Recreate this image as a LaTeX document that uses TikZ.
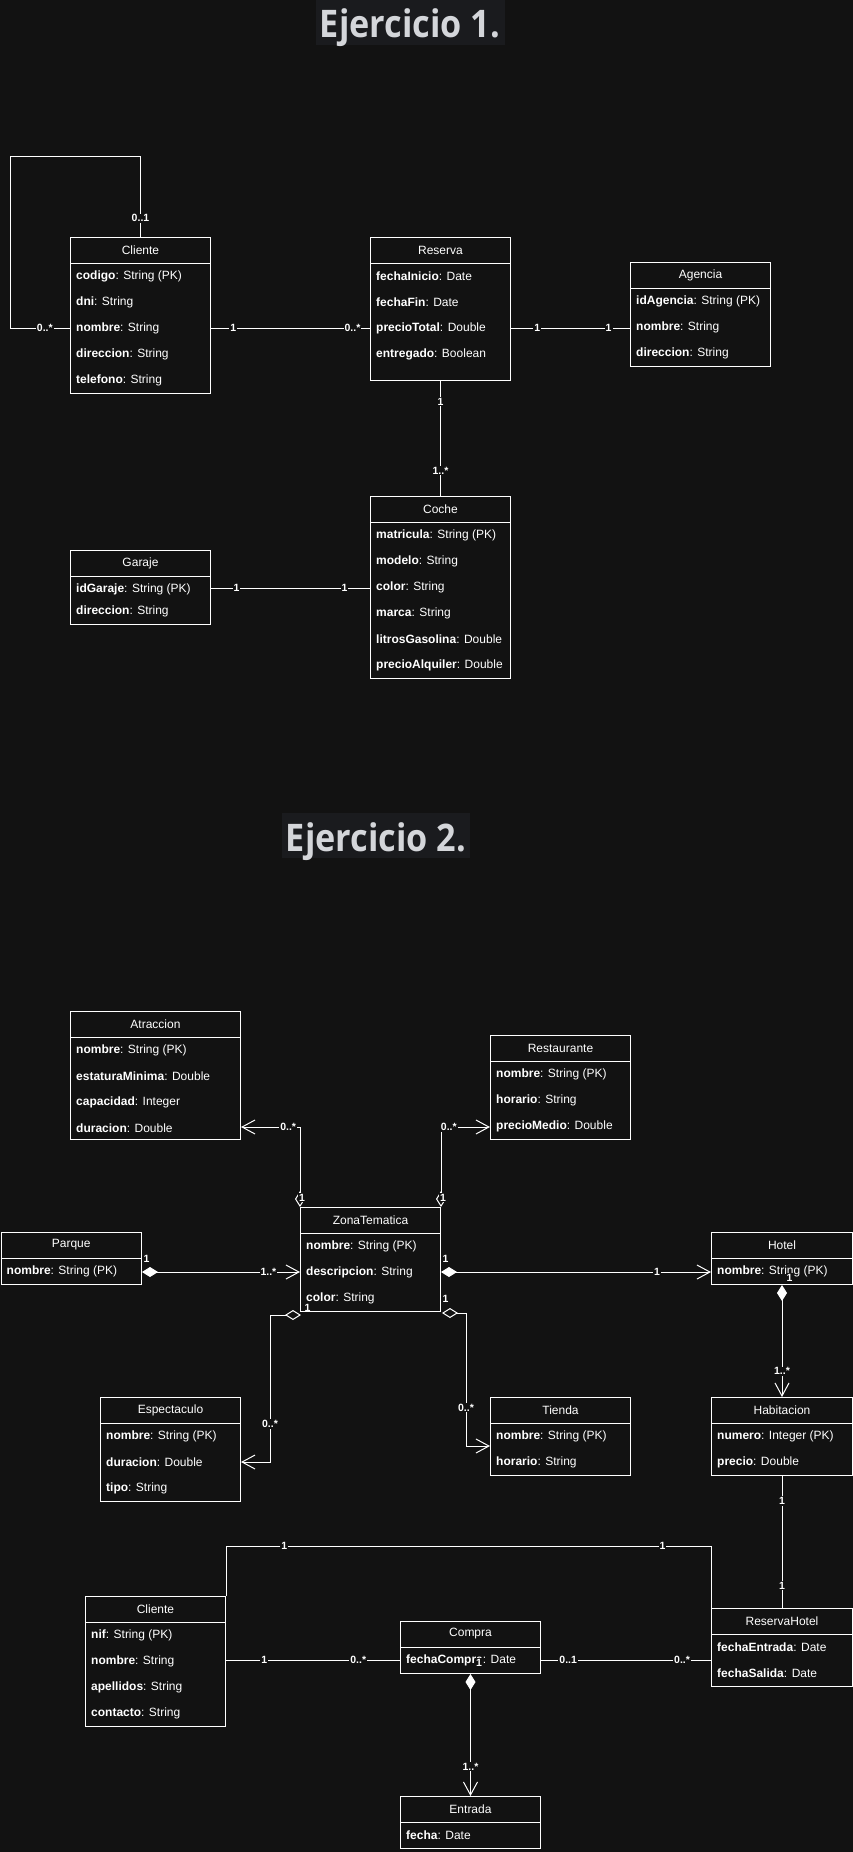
\documentclass[tikz,border=0pt]{standalone}
\usepackage{fontspec}
\setmainfont{Liberation Sans}
\newfontfamily\headfont{Open Sans}
\usetikzlibrary{calc,arrows.meta}

\definecolor{bgdark}{HTML}{121212}
\definecolor{headbg}{HTML}{1A1B1E}
\definecolor{headtxt}{HTML}{D4D6DA}

\tikzset{
  classbox/.style={draw=white, fill=bgdark, line width=1pt, anchor=north west, inner sep=0pt},
  classname/.style={text=white, font=\fontsize{12}{14}\selectfont, inner sep=0pt},
  attr/.style={text=white, font=\fontsize{12}{14}\selectfont, anchor=west, inner sep=0pt},
  mult/.style={text=white, fill=bgdark, font=\fontsize{10.5}{12}\selectfont\bfseries, inner sep=1pt},
  assoc/.style={draw=white, line width=1pt},
  navig/.style={-{Straight Barb[length=13pt,width=14pt]}},
  compos/.style={{Diamond[length=16pt,width=10pt]}-{Straight Barb[length=13pt,width=14pt]}},
  aggreg/.style={{Diamond[open,length=16pt,width=10pt]}-{Straight Barb[length=13pt,width=14pt]}},
  headline/.style={fill=headbg, text=headtxt, font=\headfont\bfseries\fontsize{38}{40}\selectfont,
    inner ysep=0pt, text height=38pt, anchor=base}
}

% class box: name, left, top, width, height, title
\newcommand{\umlclass}[6]{%
  \node[classbox, minimum width=#4pt, minimum height=#5pt] (#1) at (#2,#3) {};
  \node[classname] (#1-t) at ($(#1.north)+(0,13)$) {#6};
  \draw[white, line width=1pt] ($(#1.north west)+(0,26)$) -- ($(#1.north east)+(0,26)$);
}
% attribute rows: name, step, list
\newcommand{\umlattrs}[3]{%
  \foreach \attr [count=\k from 0] in {#3}
    \node[attr] (#1-a\k) at ($(#1.north west)+(6,39+#2*\k)$) {\attr};
}

\begin{document}
\begin{tikzpicture}[x=1pt,y=-1pt]
  %%%%% START %%%%%
  \fill[bgdark] (0,0) rectangle (853,1852);
  \useasboundingbox (0,0) rectangle (853,1852);

  \node[headline, minimum width=189pt, text depth=7pt] (ej1) at (410,38) {\scalebox{0.9}[1]{Ejercicio 1.}};
  \node[headline, minimum width=188pt, text depth=7pt] (ej2) at (376,851) {\scalebox{0.9}[1]{Ejercicio 2.}};

  % Ejercicio 1
  \umlclass{cliente1}{70}{237}{140}{156}{Cliente}
  \umlattrs{cliente1}{26}{\textbf{codigo}: String (PK), \textbf{dni}: String, \textbf{nombre}: String, \textbf{direccion}: String, \textbf{telefono}: String}
  \umlclass{reserva}{370}{237}{140}{143}{Reserva}
  \umlattrs{reserva}{26}{\textbf{fechaInicio}: Date, \textbf{fechaFin}: Date, \textbf{precioTotal}: Double, \textbf{entregado}: Boolean}
  \umlclass{agencia}{630}{262}{140}{104}{Agencia}
  \umlattrs{agencia}{26}{\textbf{idAgencia}: String (PK), \textbf{nombre}: String, \textbf{direccion}: String}
  \umlclass{coche}{370}{496}{140}{182}{Coche}
  \umlattrs{coche}{26}{\textbf{matricula}: String (PK), \textbf{modelo}: String, \textbf{color}: String, \textbf{marca}: String, \textbf{litrosGasolina}: Double, \textbf{precioAlquiler}: Double}
  \umlclass{garaje}{70}{550}{140}{74}{Garaje}
  \umlattrs{garaje}{22}{\textbf{idGaraje}: String (PK), \textbf{direccion}: String}

  \draw[assoc] (cliente1.north) -- node[mult, pos=0.23] {0..1} ($(cliente1.north)+(0,-81)$)
    -| ($(cliente1.north west)+(-60,91)$) -- node[mult, pos=0.58] {0..*} ($(cliente1.north west)+(0,91)$);
  \draw[assoc] ($(cliente1.north east)+(0,91)$) -- node[mult, pos=0.14] {1} node[mult, pos=0.89] {0..*} ($(reserva.north west)+(0,91)$);
  \draw[assoc] ($(reserva.north east)+(0,91)$) -- node[mult, pos=0.22] {1} node[mult, pos=0.82] {1} ($(agencia.north west)+(0,66)$);
  \draw[assoc] (reserva.south) -- node[mult, pos=0.18] {1} node[mult, pos=0.78] {1..*} (coche.north);
  \draw[assoc] ($(garaje.north east)+(0,38)$) -- node[mult, pos=0.16] {1} node[mult, pos=0.84] {1} ($(coche.north west)+(0,92)$);

  % Ejercicio 2
  \umlclass{atraccion}{70}{1011}{170}{128}{Atraccion}
  \umlattrs{atraccion}{26}{\textbf{nombre}: String (PK), \textbf{estaturaMinima}: Double, \textbf{capacidad}: Integer, \textbf{duracion}: Double}
  \umlclass{restaurante}{490}{1035}{140}{104}{Restaurante}
  \umlattrs{restaurante}{26}{\textbf{nombre}: String (PK), \textbf{horario}: String, \textbf{precioMedio}: Double}
  \umlclass{zona}{300}{1207}{140}{104}{ZonaTematica}
  \umlattrs{zona}{26}{\textbf{nombre}: String (PK), \textbf{descripcion}: String, \textbf{color}: String}
  \umlclass{parque}{0.5}{1232}{140.5}{52}{Parque}
  \umlattrs{parque}{26}{\textbf{nombre}: String (PK)}
  \umlclass{hotel}{711}{1232}{141}{52}{Hotel}
  \umlattrs{hotel}{26}{\textbf{nombre}: String (PK)}
  \umlclass{espectaculo}{100}{1397}{140}{104}{Espectaculo}
  \umlattrs{espectaculo}{26}{\textbf{nombre}: String (PK), \textbf{duracion}: Double, \textbf{tipo}: String}
  \umlclass{tienda}{490}{1397}{140}{78}{Tienda}
  \umlattrs{tienda}{26}{\textbf{nombre}: String (PK), \textbf{horario}: String}
  \umlclass{habitacion}{711}{1397}{141}{78}{Habitacion}
  \umlattrs{habitacion}{26}{\textbf{numero}: Integer (PK), \textbf{precio}: Double}
  \umlclass{cliente2}{85}{1596}{140}{130}{Cliente}
  \umlattrs{cliente2}{26}{\textbf{nif}: String (PK), \textbf{nombre}: String, \textbf{apellidos}: String, \textbf{contacto}: String}
  \umlclass{compra}{400}{1621}{140}{52}{Compra}
  \umlattrs{compra}{26}{\textbf{fechaCompra}: Date}
  \umlclass{reservahotel}{711}{1608}{141}{78}{ReservaHotel}
  \umlattrs{reservahotel}{26}{\textbf{fechaEntrada}: Date, \textbf{fechaSalida}: Date}
  \umlclass{entrada}{400}{1796}{140}{52}{Entrada}
  \umlattrs{entrada}{26}{\textbf{fecha}: Date}

  \draw[assoc, aggreg] (zona.north west) |- node[mult, pos=0.06, xshift=2pt] {1} node[mult, pos=0.6] {0..*} ($(atraccion.north east)+(0,116)$);
  \draw[assoc, aggreg] (zona.north east) |- node[mult, pos=0.06, xshift=2pt] {1} node[mult, pos=0.58] {0..*} ($(restaurante.north west)+(0,92)$);
  \draw[assoc, compos] ($(parque.north east)+(0,40)$) -- node[mult, fill=none, pos=0, anchor=south west, yshift=8pt] {1} node[mult, pos=0.8] {1..*} ($(zona.north west)+(0,65)$);
  \draw[assoc, compos] ($(zona.north east)+(0,65)$) -- node[mult, fill=none, pos=0, anchor=south west, yshift=8pt] {1} node[mult, pos=0.8] {1} ($(hotel.north west)+(0,40)$);
  \draw[assoc, aggreg] ($(zona.south west)+(1,3)$) -- node[mult, fill=none, pos=0, anchor=south west, xshift=2pt, yshift=2pt] {1} ++(-31,0)
    |- node[mult, pos=0.37] {0..*} ($(espectaculo.north east)+(0,65)$);
  \draw[assoc, aggreg] ($(zona.south east)+(1,1)$) -- node[mult, fill=none, pos=0, anchor=south west, xshift=-1pt, yshift=9pt] {1} ++(24,0)
    |- node[mult, pos=0.355] {0..*} ($(tienda.north west)+(0,49)$);
  \draw[assoc, compos] (hotel.south) -- node[mult, pos=0, anchor=south west, xshift=3pt, yshift=2pt] {1} node[mult, pos=0.77] {1..*} (habitacion.north);
  \draw[assoc] (habitacion.south) -- node[mult, pos=0.19] {1} node[mult, pos=0.83] {1} (reservahotel.north);
  \draw[assoc] (cliente2.north east) -- ++(0,-50) -| node[mult, pos=0.06] {1} node[mult, pos=0.45] {1} (reservahotel.north west);
  \draw[assoc] ($(cliente2.north east)+(0,64)$) -- node[mult, pos=0.22] {1} node[mult, pos=0.76] {0..*} ($(compra.north west)+(0,39)$);
  \draw[assoc] ($(compra.north east)+(0,39)$) -- node[mult, pos=0.16] {0..1} node[mult, pos=0.83] {0..*} ($(reservahotel.north west)+(0,52)$);
  \draw[assoc, compos] (compra.south) -- node[mult, pos=0, anchor=south west, xshift=4pt, yshift=6pt] {1} node[mult, pos=0.76] {1..*} (entrada.north);
  %%%%% END %%%%%
\end{tikzpicture}
\end{document}
